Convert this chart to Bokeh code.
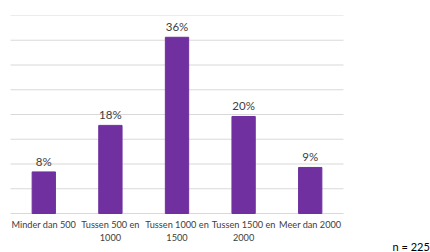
from bokeh.plotting import figure
from bokeh.models import ColumnDataSource, Label
from bokeh.embed import file_html
from bokeh.resources import INLINE
from bokeh.core.properties import value

categories = ["Minder dan 500", "Tussen 500 en\n1000", "Tussen 1000 en\n1500", "Tussen 1500 en\n2000", "Meer dan 2000"]
values = [8.4, 17.8, 35.6, 19.6, 9.3]
labels = ["8%", "18%", "36%", "20%", "9%"]
grid_levels = [0, 5, 10, 15, 20, 25, 30, 35, 40]
note = "n = 225"

n = len(categories)
idx = list(range(n))
src = ColumnDataSource(dict(x=idx, cat=categories, val=values, lab=labels, zero=[0] * n))
gsrc = ColumnDataSource(dict(y=grid_levels, x0=[-0.5] * len(grid_levels), x1=[n - 0.5] * len(grid_levels)))

p = figure(x_range=(-0.65, 5.806), y_range=(-7.88, 40), width=430, height=252,
           output_backend="svg", toolbar_location=None,
           min_border_left=0, min_border_right=0, min_border_top=15, min_border_bottom=0)
p.outline_line_color = None
p.background_fill_color = "white"
p.border_fill_color = "white"
p.xaxis.visible = False
p.yaxis.visible = False
p.grid.visible = False

p.segment(x0="x0", x1="x1", y0="y", y1="y", source=gsrc, line_color="#d9d9d9", line_width=1)
p.vbar(x="x", top="val", width=0.35, source=src, fill_color="#7030A0", line_color="#7030A0")
p.text(x="x", y="val", text="lab", source=src, text_align="center", text_baseline="bottom",
       y_offset=-4, text_font=value("Lato"), text_font_size="11.5px", text_color="#404040")
p.text(x="x", y="zero", text="cat", source=src, text_align="center", text_baseline="top",
       y_offset=6, text_font=value("Lato"), text_font_size="9.2px", text_color="#404040",
       text_line_height=1.15)

p.add_layout(Label(x=392, y=-6.7, x_units="screen", y_units="data", text=note,
                   text_font="Lato", text_font_size="11px", text_color="#000000",
                   text_baseline="middle"))

open("out.html", "w").write(file_html(p, INLINE))
